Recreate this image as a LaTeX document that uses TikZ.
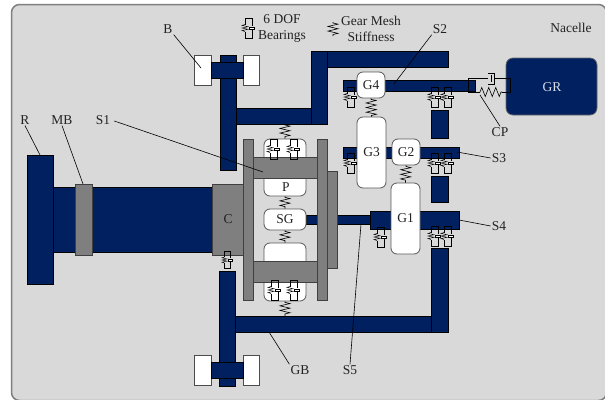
\documentclass[tikz,border=0pt]{standalone}
\usepackage{fontspec}
\setmainfont{Liberation Serif}
\usetikzlibrary{decorations.pathmorphing}
\definecolor{navy}{HTML}{002060}
\definecolor{panel}{HTML}{D9D9D9}
\definecolor{steel}{HTML}{7F7F7F}
\definecolor{ink}{HTML}{222222}
\tikzset{
  part/.style={draw=black,line width=0.7pt,fill=navy},
  metal/.style={draw=black!75,line width=0.7pt,fill=steel},
  pad/.style={draw=black!70,line width=0.7pt,fill=white},
  gear/.style={draw=black!65,line width=0.8pt,fill=white,rounded corners=6pt,inner sep=0pt,text=ink,font=\fontsize{13.5}{13.5}\selectfont},
  txt/.style={text=ink,inner sep=1pt,align=center,font=\fontsize{13.5}{16}\selectfont},
  leader/.style={draw=black,line width=0.6pt},
  spr/.style={draw=black,line width=0.6pt,decorate,decoration={zigzag,segment length=4.6pt,amplitude=5pt,pre length=1pt,post length=1pt}},
  bearing/.pic={
    \draw[black,line width=0.45pt] (-3,-3.5) -- (-3,-10) -- (4,-10) -- (4,-2);
    \draw[black,line width=0.45pt] (4,2) -- (4,10) -- (-3,10) -- (-3,3.5);
    \draw[black,line width=0.45pt] (-3,-3.5) -- (-6,-2.6) -- (0,-1.3) -- (-6,0) -- (0,1.3) -- (-6,2.6) -- (-3,3.5);
    \draw[black,line width=0.4pt,fill=white] (1.2,-1.3) rectangle (6,1.3);
  }
}
\begin{document}
\begin{tikzpicture}[x=1pt,y=-1pt]
\clip (0,0) rectangle (605,399);
\path[fill=white] (0,0) rectangle (605,399);
\draw[draw=steel,line width=1.5pt,fill=panel,rounded corners=8pt] (11.5,4.5) rectangle (606.5,400.5);
% low speed side
\draw[part] (53,187) rectangle (213,252);
\draw[part] (27,155) rectangle (53,284);
\draw[metal] (75,184) rectangle (92,255);
\draw[metal] (212,184) rectangle (243,255);
% bearings of the gearbox mount
\draw[part] (220,55) rectangle (236,170);
\draw[pad] (194,55) rectangle (211,85);
\draw[pad] (243,55) rectangle (259,85);
\draw[part] (211,62) rectangle (243,78);
\draw[part] (236,108) rectangle (311,124);
\draw[part] (327,51) rectangle (448,67);
\draw[part] (311,51) rectangle (327,124);
\draw[part] (219,271) rectangle (235,386);
\draw[pad] (194,355) rectangle (211,385);
\draw[pad] (243,355) rectangle (259,385);
\draw[part] (211,362) rectangle (243,378);
\draw[part] (235,316) rectangle (448,332);
\draw[part] (431,248) rectangle (448,332);
\draw[part] (431,110) rectangle (448,138);
\draw[part] (431,176) rectangle (448,202);
% shafts
\draw[part] (306,215) rectangle (372,224);
\draw[part] (370,211) rectangle (459,229);
\draw[part] (343,147) rectangle (459,158);
\draw[part] (343,80) rectangle (475,91);
% planet stage
\draw[metal] (327,171) rectangle (337,268);
\node[gear,minimum width=42pt,minimum height=57pt] (P1) at (285,167.5) {};
\node[gear,minimum width=42pt,minimum height=58pt] (P2) at (285,272) {};
\draw[metal] (243,139) rectangle (253,300);
\draw[metal] (317,139) rectangle (327,300);
\draw[metal] (253,157) rectangle (317,178);
\draw[metal] (253,261) rectangle (317,282);
\node[gear,minimum width=42pt,minimum height=21pt] (SG) at (285,219.5) {SG};
\node[txt] (Ptxt) at (286,187) {P};
% gears
\node[gear,minimum width=29pt,minimum height=71pt] (G3) at (371.5,152.5) {G3};
\node[gear,minimum width=28pt,minimum height=26pt] (G4) at (371,85) {G4};
\node[gear,minimum width=28pt,minimum height=26pt] (G2) at (406,152) {G2};
\node[gear,minimum width=29pt,minimum height=71pt] (G1) at (405.5,218.5) {G1};
\node[draw=black!60,line width=0.7pt,fill=navy,rounded corners=7pt,minimum width=91pt,minimum height=57pt,inner sep=0pt] (GR) at (551.5,86.5) {};
\node[txt,text=white!85!navy] (GRtxt) at (552,87) {GR};
% mesh springs
\coordinate (HS) at (285,124);
\coordinate (HB) at (285,316);
\draw[spr] (HS) -- (P1.north);
\draw[spr] (P1.south) -- (SG.north);
\draw[spr] (SG.south) -- (P2.north);
\draw[spr] (P2.south) -- (HB);
\draw[spr] (G4.south) -- (G3.north);
\draw[spr] (G2.south) -- (G1.north);
% bearings
\foreach \p in {(350,97),(434,97),(447,97),(350,163),(434,163),(447,163),(434,236),(447,236),(380,237),(273,149),(293,149),(274,290),(293,290),(248,28)}
  \pic at \p {bearing};
\pic[scale=0.85] at (227,260) {bearing};
% coupling
\coordinate (CA) at (480,92);
\coordinate (CB) at (502,92);
\draw[black,line width=0.7pt] (CA) -- (468,92) -- (468,78) -- (488,78);
\draw[black,line width=0.7pt] (494,78) -- (510.5,78) -- (510.5,92) -- (CB);
\draw[black,line width=0.7pt,fill=panel] (488,73.5) -- (494.5,73.5) -- (494.5,84) -- (488,84);
\draw[black,line width=0.7pt] (491.5,75) -- (491.5,82);
\draw[spr,decoration={zigzag,segment length=7pt,amplitude=4.5pt,pre length=0pt,post length=0pt}] (CA) -- (CB);
% legend spring
\coordinate (LA) at (333,22);
\coordinate (LB) at (333,36);
\draw[spr] (LA) -- (LB);
% labels
\node[txt] (lDOF) at (282,28.5) {6 DOF\\Bearings};
\node[txt] (lMesh) at (371,28.5) {Gear Mesh\\Stiffness};
\node[txt] (lNac) at (571,28) {Nacelle};
\node[txt] (lR) at (25,120) {R};
\node[txt] (lMB) at (62,120) {MB};
\node[txt] (lS1) at (103,120) {S1};
\node[txt] (lB) at (168,29) {B};
\node[txt] (lS2) at (440,29) {S2};
\node[txt] (lS3) at (499,158) {S3};
\node[txt] (lS4) at (499,226) {S4};
\node[txt] (lS5) at (350,370) {S5};
\node[txt] (lGB) at (300,370) {GB};
\node[txt] (lCP) at (500,132) {CP};
\node[txt] (lC) at (228,219) {C};
% leaders
\coordinate (tR) at (40,155);
\coordinate (tMB) at (83,184);
\coordinate (tS1) at (263,172);
\coordinate (tB) at (201,68);
\coordinate (tS2) at (394,84);
\coordinate (tS3) at (457,152);
\coordinate (tS4) at (459,220);
\coordinate (tS5) at (361,224);
\coordinate (tGB) at (269,332);
\coordinate (tCP) at (480,95);
\draw[leader] (lR.south) -- (tR);
\draw[leader] (lMB.south) -- (tMB);
\draw[leader] (lS1.east) ++(3,1) -- (tS1);
\draw[leader] (lB.south east) -- (tB);
\draw[leader] (lS2.south west) -- (tS2);
\draw[leader] (lS3.west) -- (tS3);
\draw[leader] (lS4.west) -- (tS4);
\draw[leader] (lS5.north) -- (tS5);
\draw[leader] (lGB.north west) -- (tGB);
\draw[leader] (lCP.north) -- (tCP);
\end{tikzpicture}
\end{document}
